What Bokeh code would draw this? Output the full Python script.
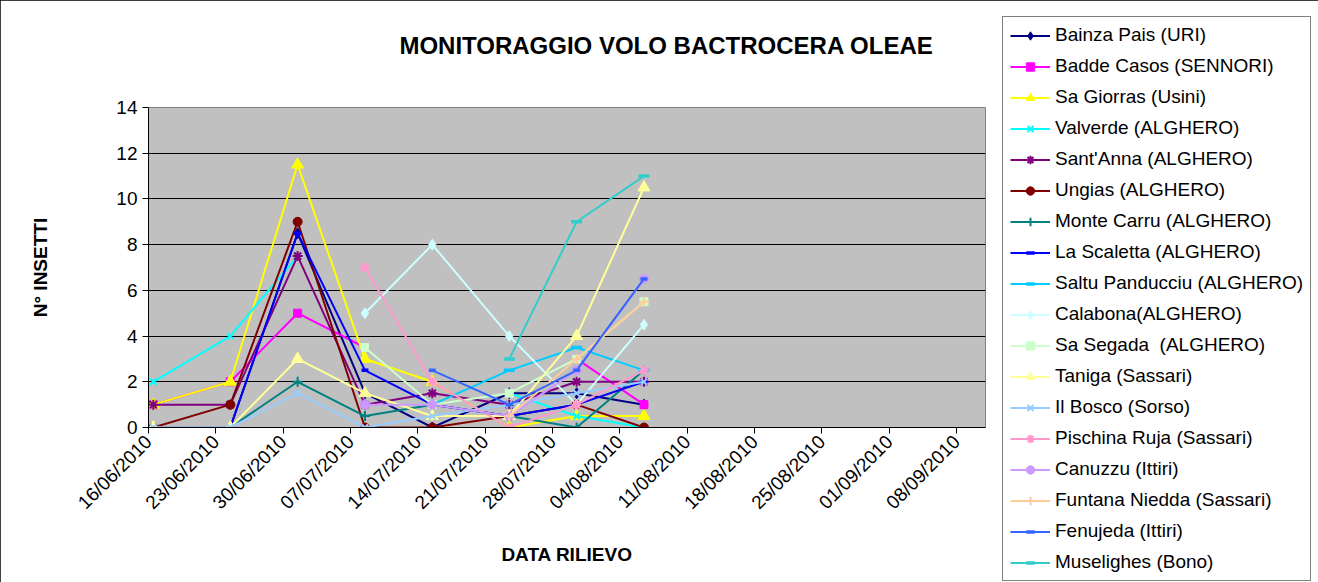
import math
import pandas as pd
from bokeh.plotting import figure
from bokeh.models import Range1d, FixedTicker, DatetimeTickFormatter, Legend, LegendItem, Label
from bokeh.embed import file_html
from bokeh.resources import INLINE

nan = float("nan")

# ---- data ----
dates = ["2010-06-16", "2010-06-24", "2010-07-01", "2010-07-08",
         "2010-07-15", "2010-07-23", "2010-07-30", "2010-08-06"]
tick_dates = ["2010-06-16", "2010-06-23", "2010-06-30", "2010-07-07", "2010-07-14",
              "2010-07-21", "2010-07-28", "2010-08-04", "2010-08-11", "2010-08-18",
              "2010-08-25", "2010-09-01", "2010-09-08"]
x_start = "2010-06-16"
x_end = "2010-09-11"

names = ["Bainza Pais (URI)", "Badde Casos (SENNORI)", "Sa Giorras (Usini)",
         "Valverde (ALGHERO)", "Sant'Anna (ALGHERO)", "Ungias (ALGHERO)",
         "Monte Carru (ALGHERO)", "La Scaletta (ALGHERO)", "Saltu Panducciu (ALGHERO)",
         "Calabona(ALGHERO)", "Sa Segada  (ALGHERO)", "Taniga (Sassari)",
         "Il Bosco (Sorso)", "Pischina Ruja (Sassari)", "Canuzzu (Ittiri)",
         "Funtana Niedda (Sassari)", "Fenujeda (Ittiri)", "Muselighes (Bono)"]

bainza_pais = [0, 0, 8.5, 1.5, 0, 1.5, 1.5, 1]
badde_casos = [1, 2, 5, 3.5, nan, nan, 3, 1]
sa_giorras = [1, 2, 11.5, 3, 2, 0, 0.5, 0.5]
valverde = [2, 4, 7.5, nan, nan, 1.5, 0.5, 0]
sant_anna = [1, 1, 7.5, 1, 1.5, 1, 2, 2]
ungias = [0, 1, 9, 0, 0, 0.5, 1, 0]
monte_carru = [0, 0, 2, 0.5, 1, 0.5, 0, 2.5]
la_scaletta = [0, 0, 8.5, 2.5, 1, 0.5, 1, 2]
saltu_panducciu = [nan, nan, nan, nan, 1, 2.5, 3.5, 2.5]
calabona = [nan, nan, nan, 5, 8, 4, 1, 4.5]
sa_segada = [nan, nan, nan, 3.5, 1, 1.5, 3, 5.5]
taniga = [0, 0, 3, 1.5, 0.5, 0.5, 4, 10.5]
il_bosco = [0, 0, 1.5, 0, 0.5, 1, 1.5, 2]
pischina_ruja = [nan, nan, nan, 7, 2, 0, 1, 2.5]
canuzzu = [nan, nan, nan, 1, 1, 0.5, 2.5, 6.5]
funtana_niedda = [nan, nan, nan, nan, nan, 0.5, 3, 5.5]
fenujeda = [nan, nan, nan, nan, 2.5, 1, 2.5, 6.5]
muselighes = [nan, nan, nan, nan, nan, 3, 9, 11]

series = [bainza_pais, badde_casos, sa_giorras, valverde, sant_anna, ungias,
          monte_carru, la_scaletta, saltu_panducciu, calabona, sa_segada, taniga,
          il_bosco, pischina_ruja, canuzzu, funtana_niedda, fenujeda, muselighes]

title_text = "MONITORAGGIO VOLO BACTROCERA OLEAE"

# ---- styles ----
colors = ["#000080", "#FF00FF", "#FFFF00", "#00FFFF", "#800080", "#800000",
          "#008080", "#0000FF", "#00CCFF", "#CCFFFF", "#CCFFCC", "#FFFF99",
          "#99CCFF", "#FF99CC", "#CC99FF", "#FFCC99", "#3366FF", "#33CCCC"]
markers = ["diamond", "square", "triangle", "x", "asterisk", "circle", "cross", "dash",
           "dash", "diamond", "square", "triangle", "x", "asterisk", "circle", "cross",
           "dash", "dash"]
msizes = [11, 8, 12, 9, 10, 9, 10, 7, 11, 11, 8, 12, 9, 10, 9, 10, 7, 11]

W, H = 1318, 582
FONT = "Liberation Sans"


def ms(d):
    return pd.Timestamp(d).value / 1e6


# readings plotted at the middle of their day (Excel date axis)
xs = [ms(d) + 12 * 3600 * 1000 for d in dates]


def add_series(fig, name, ys, c, m, s):
    lr = fig.line(xs, ys, line_color=c, line_width=2)
    if m == "dash":
        sr = fig.scatter(xs, ys, marker=m, size=s, line_color=c, line_width=3.5)
    elif m in ("x", "asterisk", "cross"):
        sr = fig.scatter(xs, ys, marker=m, size=s, line_color=c, line_width=2)
    else:
        sr = fig.scatter(xs, ys, marker=m, size=s, fill_color=c, line_color=c)
    return LegendItem(label=name, renderers=[lr, sr])


# ---------------- main chart ----------------
p = figure(width=W, height=H, output_backend="svg", toolbar_location=None,
           x_range=Range1d(ms(x_start), ms(x_end)), y_range=Range1d(0, 14),
           min_border_left=148, min_border_right=333, min_border_top=107,
           min_border_bottom=155)

p.background_fill_color = "#C0C0C0"
p.border_fill_color = "white"
p.outline_line_color = "#808080"
p.outline_line_width = 1
p.styles = {"outline": "1px solid #000000", "outline-offset": "-1px"}

p.xgrid.visible = False
p.ygrid.grid_line_color = "black"
p.ygrid.grid_line_width = 1

p.xaxis.ticker = FixedTicker(ticks=[ms(d) for d in tick_dates])
fmt = "%d/%m/%Y"
p.xaxis.formatter = DatetimeTickFormatter(days=fmt, months=fmt, years=fmt, hours=fmt,
                                         hourmin=fmt, minutes=fmt, minsec=fmt,
                                         seconds=fmt, milliseconds=fmt, microseconds=fmt)
p.xaxis.major_label_orientation = math.pi / 4
p.yaxis.ticker = FixedTicker(ticks=[0, 2, 4, 6, 8, 10, 12, 14])

for ax in (p.xaxis[0], p.yaxis[0]):
    ax.axis_line_color = "black"
    ax.major_tick_line_color = "black"
    ax.major_tick_out = 6
    ax.major_tick_in = 0
    ax.minor_tick_line_color = None
    ax.major_label_text_font = FONT
    ax.major_label_text_font_size = "19px"
    ax.major_label_text_color = "black"
    ax.axis_label_text_font = FONT
    ax.axis_label_text_font_size = "19px"
    ax.axis_label_text_font_style = "bold"
    ax.axis_label_text_color = "black"
    ax.major_label_standoff = 5

p.xaxis.axis_label = "DATA RILIEVO"
p.xaxis.axis_label_standoff = 20
p.yaxis.axis_label = "N° INSETTI"
p.yaxis.axis_label_standoff = 62

for name, ys, c, m, s in zip(names, series, colors, markers, msizes):
    add_series(p, name, ys, c, m, s)

# ------- transparent overlay (page-pixel frame) holding title and legend -------
q = figure(width=W, height=H, output_backend="svg", toolbar_location=None,
           x_range=Range1d(0, W), y_range=Range1d(H, 0),
           x_axis_location=None, y_axis_location=None,
           min_border_left=0, min_border_right=0, min_border_top=0, min_border_bottom=0)
q.grid.visible = False
q.outline_line_color = None
q.background_fill_alpha = 0
q.border_fill_alpha = 0
q.styles = {"position": "absolute", "left": "0px", "top": "0px",
            "pointer-events": "none"}

items = [add_series(q, name, ys, c, m, s)
         for name, ys, c, m, s in zip(names, series, colors, markers, msizes)]

legend = Legend(items=items, location=(1002, 1), label_text_font=FONT,
                label_text_font_size="19px", label_text_color="black",
                glyph_width=40, glyph_height=21, label_height=21, spacing=9,
                padding=7, label_standoff=5, border_line_color="black",
                border_line_width=1, background_fill_color="white",
                background_fill_alpha=1, margin=0)
q.add_layout(legend)

q.add_layout(Label(x=666, y=45, text=title_text, text_font=FONT,
                   text_font_size="24px", text_font_style="bold",
                   text_align="center", text_baseline="middle", text_color="black"))

open("out.html", "w").write(file_html([p, q], INLINE))
